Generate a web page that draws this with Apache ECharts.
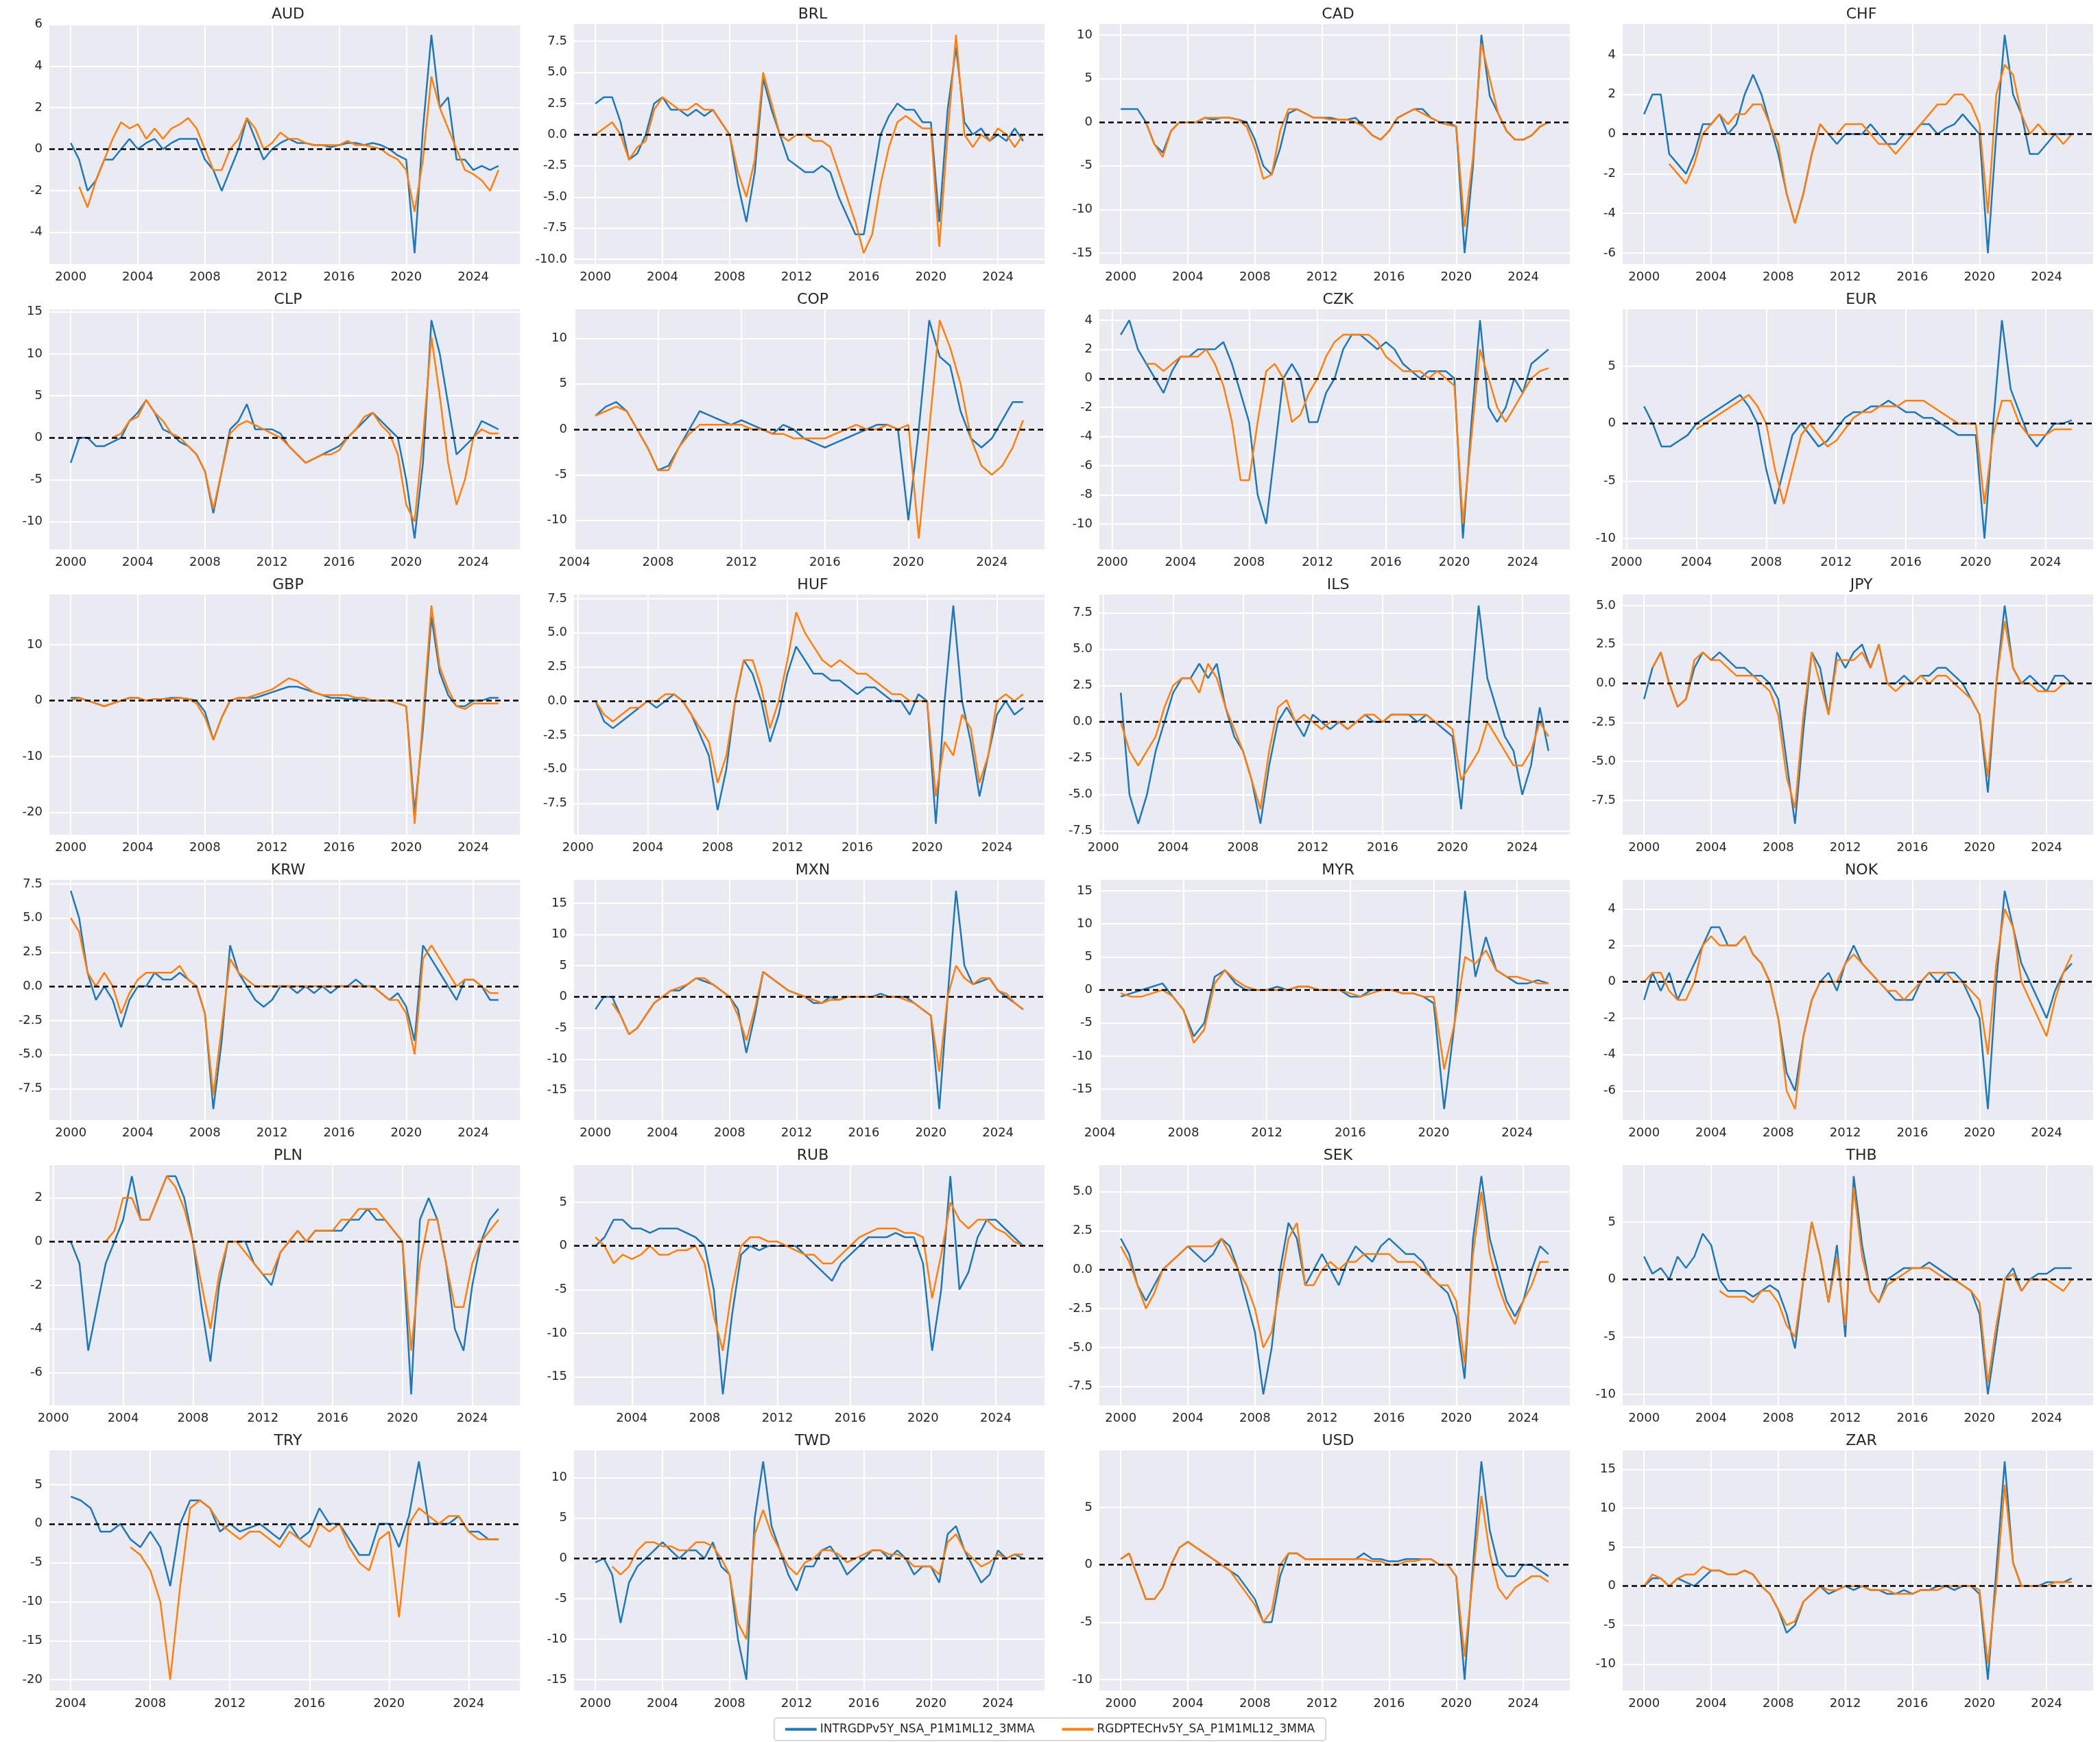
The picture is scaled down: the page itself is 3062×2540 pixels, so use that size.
<!DOCTYPE html>
<html>
<head>
<meta charset="utf-8">
<script src="https://cdn.jsdelivr.net/npm/echarts@6/dist/echarts.min.js"></script>
<style>html,body{margin:0;background:#fff}#main{width:3062px;height:2540px}</style>
</head>
<body>
<div id="main"></div>
<script>
const _ = null;
// semiannual points, index 0 = 2000.0, index 51 = 2025.5
const currencies = ['AUD','BRL','CAD','CHF','CLP','COP','CZK','EUR','GBP','HUF','ILS','JPY',
  'KRW','MXN','MYR','NOK','PLN','RUB','SEK','THB','TRY','TWD','USD','ZAR'];
const seriesNames = ['INTRGDPv5Y_NSA_P1M1ML12_3MMA', 'RGDPTECHv5Y_SA_P1M1ML12_3MMA'];
const yTicks = {
  AUD:[-6,6,2], BRL:[-10,10,2.5], CAD:[-15,10,5], CHF:[-8,6,2], CLP:[-15,15,5], COP:[-15,15,5],
  CZK:[-12,4,2], EUR:[-10,10,5], GBP:[-20,10,10], HUF:[-10,7.5,2.5], ILS:[-7.5,10,2.5], JPY:[-10,5,2.5],
  KRW:[-10,7.5,2.5], MXN:[-20,15,5], MYR:[-20,15,5], NOK:[-8,6,2], PLN:[-8,4,2], RUB:[-20,10,5],
  SEK:[-10,7.5,2.5], THB:[-10,10,5], TRY:[-20,10,5], TWD:[-15,10,5], USD:[-10,10,5], ZAR:[-10,15,5]
};
const xTickLabels = [2000, 2004, 2008, 2012, 2016, 2020, 2024];

const blue = {
  AUD:[0.3,-0.5,-2,-1.5,-0.5,-0.5,0,0.5,0,0.3,0.5,0,0.3,0.5,0.5,0.5,-0.5,-1,-2,-1,0,1.5,0.5,-0.5,0,0.3,0.5,0.3,0.3,0.2,0.2,0.1,0.2,0.3,0.3,0.2,0.3,0.2,0,-0.3,-0.5,-5,1,5.5,2,2.5,-0.5,-0.5,-1,-0.8,-1,-0.8],
  BRL:[2.5,3,3,1,-2,-1.5,0,2.5,3,2,2,1.5,2,1.5,2,1,0,-4,-7,-3,4.5,2,0,-2,-2.5,-3,-3,-2.5,-3,-5,-6.5,-8,-8,-4,0,1.5,2.5,2,2,1,1,-7,2,7,1,0,0.5,-0.5,0,-0.5,0.5,-0.5],
  CAD:[1.5,1.5,1.5,0,-2.5,-3.5,-1,0,0,0,0.5,0.3,0.5,0.5,0.3,0,-2,-5,-6,-3,1,1.5,1,0.5,0.5,0.5,0.3,0.3,0.5,-0.5,-1.5,-2,-1,0.5,1,1.5,1.5,0.5,0,0,-0.5,-15,-5,10,3,1,-1,-2,-2,-1.5,-0.5,0],
  CHF:[1,2,2,-1,-1.5,-2,-1,0.5,0.5,1,0,0.5,2,3,2,0.5,-1,-3,-4.5,-3,-1,0.5,0,-0.5,0,0,0,0.5,0,-0.5,-0.5,0,0,0.5,0.5,0,0.3,0.5,1,0.5,0,-6,0,5,2,1,-1,-1,-0.5,0,0,0],
  CLP:[-3,0,0,-1,-1,-0.5,0,2,3,4.5,3,1,0.5,-0.5,-1,-2,-4,-9,-4,1,2,4,1,1,1,0.5,-1,-2,-3,-2.5,-2,-1.5,-1,0,1,2,3,2,1,0,-5,-12,-3,14,10,4,-2,-1,0,2,1.5,1],
  COP:[_,_,_,_,_,_,_,_,_,_,1.5,2.5,3,2,0,-2,-4.5,-4,-2,0,2,1.5,1,0.5,1,0.5,0,-0.5,0.5,0,-1,-1.5,-2,-1.5,-1,-0.5,0,0.5,0.5,0,-10,0,12,8,7,2,-1,-2,-1,1,3,3],
  CZK:[_,3,4,2,1,0,-1,0.5,1.5,1.5,2,2,2,2.5,1,-1,-3,-8,-10,-5,0,1,0,-3,-3,-1,0,2,3,3,2.5,2,2.5,2,1,0.5,0,0.5,0.5,0.5,0,-11,-3,4,-2,-3,-2,0,-1,1,1.5,2],
  EUR:[_,_,1.5,0,-2,-2,-1.5,-1,0,0.5,1,1.5,2,2.5,1.5,0,-4,-7,-4,-1,0,-1,-2,-1.5,-0.5,0.5,1,1,1.5,1.5,2,1.5,1,1,0.5,0.5,0,-0.5,-1,-1,-1,-10,0,9,3,1,-1,-2,-1,0,0,0.3],
  GBP:[0.5,0.5,0,-0.5,-1,-0.5,0,0.5,0.5,0,0.3,0.3,0.5,0.5,0.3,0,-2,-7,-3,0,0.5,0.5,0.5,1,1.5,2,2.5,2.5,2,1.5,1,0.5,0.5,0.3,0.3,0,0,0,0,-0.5,-1,-20,-5,15,5,1,-1,-1,0,0,0.5,0.5],
  HUF:[_,_,0,-1.5,-2,-1.5,-1,-0.5,0,-0.5,0,0.5,0,-1,-2.5,-4,-8,-5,0,3,2,0,-3,-1,2,4,3,2,2,1.5,1.5,1,0.5,1,1,0.5,0,0,-1,0.5,0,-9,0,7,0,-3,-7,-4,-1,0,-1,-0.5],
  ILS:[_,_,2,-5,-7,-5,-2,0,2,3,3,4,3,4,1,-1,-2,-4,-7,-3,0,1,0,-1,0.5,0,-0.5,0,-0.5,0,0.5,0,0,0.5,0.5,0.5,0,0.5,0,-0.5,-1,-6,1,8,3,1,-1,-2,-5,-3,1,-2],
  JPY:[-1,1,2,0,-1.5,-1,1,2,1.5,2,1.5,1,1,0.5,0.5,0,-1,-5,-9,-3,2,1,-2,2,1,2,2.5,1,2.5,0,0,0.5,0,0.5,0.5,1,1,0.5,0,-1,-2,-7,0,5,1,0,0.5,0,-0.5,0.5,0.5,0],
  KRW:[7,5,1,-1,0,-1,-3,-1,0,0,1,0.5,0.5,1,0.5,0,-2,-9,-4,3,1,0,-1,-1.5,-1,0,0,-0.5,0,-0.5,0,-0.5,0,0,0.5,0,0,-0.5,-1,-0.5,-1.5,-4,3,2,1,0,-1,0.5,0.5,0,-1,-1],
  MXN:[-2,0,0,-3,-6,-5,-3,-1,0,1,1,2,3,2.5,2,1,0,-2,-9,-3,4,3,2,1,0.5,0,-1,-1,0,-0.5,0,0,0,0,0.5,0,0,0,-1,-2,-3,-18,0,17,5,2,2.5,3,1,0,-1,-2],
  MYR:[_,_,_,_,_,_,_,_,_,_,-1,-0.5,0,0.5,1,-1,-3,-7,-5,2,3,1,0,0,0,0.5,0,0.5,0.5,0,0,0,-1,-1,0,0,0,-0.5,-0.5,-1,-2,-18,-5,15,2,8,3,2,1,1,1.5,1],
  NOK:[-1,0.5,-0.5,0.5,-1,0,1,2,3,3,2,2,2.5,1.5,1,0,-2,-5,-6,-3,-1,0,0.5,-0.5,1,2,1,0.5,0,-0.5,-1,-1,-1,0,0.5,0,0.5,0.5,0,-1,-2,-7,0,5,3,1,0,-1,-2,-0.5,0.5,1],
  PLN:[_,_,0,-1,-5,-3,-1,0,1,3,1,1,2,3,3,2,0,-3,-5.5,-2,0,0,0,-1,-1.5,-2,-0.5,0,0.5,0,0.5,0.5,0.5,0.5,1,1,1.5,1,1,0.5,0,-7,1,2,1,-1,-4,-5,-2,0,1,1.5],
  RUB:[_,_,_,_,0,1,3,3,2,2,1.5,2,2,2,1.5,1,0,-5,-17,-8,-1,0,-0.5,0,0,0,0,-1,-2,-3,-4,-2,-1,0,1,1,1,1.5,1,1,-2,-12,-5,8,-5,-3,1,3,3,2,1,0],
  SEK:[2,1,-1,-2,-1,0,0.5,1,1.5,1,0.5,1,2,1.5,0,-2,-4,-8,-5,0,3,2,-1,0,1,0,-1,0.5,1.5,1,0.5,1.5,2,1.5,1,1,0.5,-0.5,-1,-1.5,-3,-7,2,6,2,0,-2,-3,-2,0,1.5,1],
  THB:[2,0.5,1,0,2,1,2,4,3,0,-1,-1,-1,-1.5,-1,-0.5,-1,-3,-6,0,5,2,-2,3,-5,9,3,-1,-2,0,0.5,1,1,1,1.5,1,0.5,0,-0.5,-1,-3,-10,-5,0,1,-1,0,0.5,0.5,1,1,1],
  TRY:[_,_,_,_,_,_,_,_,3.5,3,2,-1,-1,0,-2,-3,-1,-3,-8,0,3,3,2,-1,0,-1,-0.5,0,-1,-2,0,-2,-1,2,0,0,-2,-4,-4,0,0,-3,1,8,0,0,0,1,-1,-1,-2,-2],
  TWD:[-0.5,0,-2,-8,-3,-1,0,1,2,1,0,1,1,0,2,-1,-2,-10,-15,5,12,4,1,-2,-4,-1,-1,1,1.5,0,-2,-1,0,1,1,0,1,0,-2,-1,-1,-3,3,4,1,-1,-3,-2,1,0,0.5,0],
  USD:[0.5,1,-1,-3,-3,-2,0,1.5,2,1.5,1,0.5,0,-0.5,-1,-2,-3,-5,-5,-1,1,1,0.5,0.5,0.5,0.5,0.5,0.5,0.5,1,0.5,0.5,0.3,0.3,0.5,0.5,0.5,0.5,0,0,-1,-10,0,9,3,0,-1,-1,0,0,-0.5,-1],
  ZAR:[0,1,1,0,1,0.5,0,1,2,2,1.5,1.5,2,1.5,0,-1,-3,-6,-5,-2,-1,0,-1,-0.5,0,-0.5,0,-0.5,-0.5,-1,-1,-0.5,-1,-0.5,-0.5,0,0,-0.5,0,0,-1,-12,2,16,3,0,0,0,0.5,0.5,0.5,1]
};
const orange = {
  AUD:[_,-1.8,-2.8,-1.5,-0.5,0.5,1.3,1.0,1.2,0.5,1.0,0.5,1.0,1.2,1.5,1.0,0,-1,-1,0,0.5,1.5,1,0,0.3,0.8,0.5,0.5,0.3,0.2,0.2,0.2,0.2,0.4,0.2,0.2,0.1,0,-0.3,-0.5,-1,-3,-0.5,3.5,2,1,0,-1,-1.2,-1.5,-2,-1],
  BRL:[0,0.5,1,0,-2,-1,-0.5,2,3,2.5,2,2,2.5,2,2,1,0,-3,-5,-2,5,2.5,0,-0.5,0,0,-0.5,-0.5,-1,-3,-5,-7,-9.5,-8,-4,-1,1,1.5,1,0.5,0.5,-9,0,8,0,-1,0,-0.5,0.5,0,-1,0],
  CAD:[_,_,_,0,-2.5,-4,-1,0,0,0,0.5,0.5,0.5,0.5,0.3,-0.5,-3,-6.5,-6,-1,1.5,1.5,1,0.5,0.5,0.3,0.3,0.3,0,-0.5,-1.5,-2,-1,0.5,1,1.5,1,0.5,0,-0.3,-0.5,-12,-4,9,5,1,-1,-2,-2,-1.5,-0.5,0],
  CHF:[_,_,_,-1.5,-2,-2.5,-1.5,0,0.5,1,0.5,1,1,1.5,1.5,0.5,-0.5,-3,-4.5,-3,-1,0.5,0,0,0.5,0.5,0.5,0,-0.5,-0.5,-1,-0.5,0,0.5,1,1.5,1.5,2,2,1.5,0.5,-4,2,3.5,3,1,0,0.5,0,0,-0.5,0],
  CLP:[_,_,_,_,_,0,0.5,2,2.5,4.5,3,2,0.5,0,-1,-2,-4,-8.5,-4,0.5,1.5,2,1.5,1,0.5,0,-1,-2,-3,-2.5,-2,-2,-1.5,0,1,2.5,3,1.5,0.5,-2,-8,-10,0,12,5,-3,-8,-5,0,1,0.5,0.5],
  COP:[_,_,_,_,_,_,_,_,_,_,1.5,2,2.5,2,0,-2,-4.5,-4.5,-2,-0.5,0.5,0.5,0.5,0.5,0.5,0,0,-0.5,-0.5,-1,-1,-1,-1,-0.5,0,0.5,0,0,0.5,0,0.5,-12,0,12,9,5,-1,-4,-5,-4,-2,1],
  CZK:[_,_,_,_,1,1,0.5,1,1.5,1.5,1.5,2,1,-0.5,-3,-7,-7,-3,0.5,1,0,-3,-2.5,-1,0,1.5,2.5,3,3,3,3,2.5,1.5,1,0.5,0.5,0.5,0,0.5,0,-0.5,-10,-4,2,0,-2,-3,-2,-1,0,0.5,0.7],
  EUR:[_,_,_,_,_,_,_,_,-0.5,0,0.5,1,1.5,2,2.5,1.5,0,-4,-7,-4,-1,0,-1,-2,-1.5,-0.5,0.5,1,1,1.5,1.5,1.5,2,2,2,1.5,1,0.5,0,0,0,-7,-1,2,2,0,-1,-1,-1,-0.5,-0.5,-0.5],
  GBP:[0,0.5,0,-0.5,-1,-0.5,0,0.5,0.5,0,0.3,0.3,0.3,0.5,0.3,-0.5,-3,-7,-3,0,0.5,0.5,1,1.5,2,3,4,3.5,2.5,1.5,1,1,1,1,0.5,0.5,0,0,0,-0.5,-1,-22,-3,17,6,2,-1,-1.5,-0.5,-0.5,-0.5,-0.5],
  HUF:[_,_,0,-1,-1.5,-1,-0.5,-0.5,0,0,0.5,0.5,0,-1,-2,-3,-6,-4,0,3,3,1,-2,0,3,6.5,5,4,3,2.5,3,2.5,2,2,1.5,1,0.5,0.5,0,0,0,-7,-3,-4,-1,-2,-6,-4,0,0.5,0,0.5],
  ILS:[_,_,0,-2,-3,-2,-1,1,2.5,3,3,2,4,3,1,-0.5,-2,-4,-6,-2,1,1.5,0,0.5,0,-0.5,0,0,-0.5,0,0.5,0.5,0,0.5,0.5,0.5,0.5,0.5,0,0,-0.5,-4,-3,-2,0,-1,-2,-3,-3,-2,0,-1],
  JPY:[_,1,2,0,-1.5,-1,1.5,2,1.5,1.5,1,0.5,0.5,0.5,0,-0.5,-2,-6,-8,-2,2,0,-2,1.5,1.5,1.5,2,1,2.5,0,-0.5,0,0,0.5,0,0.5,0.5,0,-0.5,-1,-2,-6,0,4,1,0,0,-0.5,-0.5,-0.5,0,0],
  KRW:[5,4,1,0,1,0,-2,-0.5,0.5,1,1,1,1,1.5,0.5,0,-2,-8,-3,2,1,0.5,0,0,0,0,0,0,0,0,0,0,0,0,0,0,0,-0.5,-1,-1,-2,-5,2,3,2,1,0,0.5,0.5,0,-0.5,-0.5],
  MXN:[_,_,-1,-3,-6,-5,-3,-1,0,1,1.5,2,3,3,2,1,0,-3,-7,-2,4,3,2,1,0.5,0,-0.5,-1,-0.5,-0.5,0,0,0,0,0,0,0,-0.5,-1,-2,-3,-12,0,5,3,2,3,3,1,0.5,-1,-2],
  MYR:[_,_,_,_,_,_,_,_,_,_,-0.5,-1,-1,-0.5,0,-1,-3,-8,-6,1,3,1.5,0.5,0,0,0,0,0.5,0.5,0,0,0,-0.5,-1,-0.5,0,0,-0.5,-0.5,-1,-1,-12,-5,5,4,6,3,2,2,1.5,1,1],
  NOK:[0,0.5,0.5,-0.5,-1,-1,0,2,2.5,2,2,2,2.5,1.5,1,0,-2,-6,-7,-3,-1,0,0,0,1,1.5,1,0.5,0,-0.5,-0.5,-1,-0.5,0,0.5,0.5,0.5,0,0,-0.5,-1,-4,1,4,3,0,-1,-2,-3,-1,0.5,1.5],
  PLN:[_,_,_,_,_,_,0,0.5,2,2,1,1,2,3,2.5,1.5,0,-2,-4,-1.5,0,0,-0.5,-1,-1.5,-1.5,-0.5,0,0.5,0,0.5,0.5,0.5,1,1,1.5,1.5,1.5,1,0.5,0,-5,-1,1,1,-1,-3,-3,-1,0,0.5,1],
  RUB:[_,_,_,_,1,0,-2,-1,-1.5,-1,0,-1,-1,-0.5,-0.5,0,-2,-8,-12,-5,0,1,1,0.5,0.5,0,-0.5,-1,-1,-2,-2,-1,0,1,1.5,2,2,2,1.5,1.5,1,-6,-1,5,3,2,3,3,2,1.5,0.5,0],
  SEK:[1.5,0.5,-1,-2.5,-1.5,0,0.5,1,1.5,1.5,1.5,1.5,2,1,0,-1,-2.5,-5,-4,-1,2,3,-1,-1,0,0.5,0,0.5,0.5,1,1,1,1,0.5,0.5,0.5,0,-0.5,-1,-1,-2,-6,1,5,1,-1,-2.5,-3.5,-2,-1,0.5,0.5],
  THB:[_,_,_,_,_,_,_,_,_,-1,-1.5,-1.5,-1.5,-2,-1,-1,-2,-4,-5,0,5,2,-2,2,-4,8,2,-1,-2,-0.5,0,0.5,1,1,1,0.5,0,0,-0.5,-1,-2,-9,-4,0,0.5,-1,0,0,0,-0.5,-1,0],
  TRY:[_,_,_,_,_,_,_,_,_,_,_,_,_,_,-3,-4,-6,-10,-20,-8,2,3,2,0,-1,-2,-1,-1,-2,-3,-1,-2,-3,0,-1,0,-3,-5,-6,-2,-1,-12,0,2,1,0,1,1,-1,-2,-2,-2],
  TWD:[_,_,-1,-2,-1,1,2,2,1.5,1.5,1,1,2,2,1.5,0,-2,-8,-10,3,6,3,1,-1,-2,-0.5,0,1,1,0.5,-0.5,0,0.5,1,1,0.5,0.5,0,-1,-1,-1,-2,2,3,1,0,-1,-0.5,0.5,0,0.5,0.5],
  USD:[0.5,1,-1,-3,-3,-2,0,1.5,2,1.5,1,0.5,0,-0.5,-1.5,-2.5,-3.5,-5,-4,0,1,1,0.5,0.5,0.5,0.5,0.5,0.5,0.5,0.5,0.3,0.3,0,0,0.3,0.3,0.5,0.5,0,0,-1,-8,-1,6,1,-2,-3,-2,-1.5,-1,-1,-1.5],
  ZAR:[0,1.5,1,0,1,1.5,1.5,2.5,2,2,1.5,1.5,2,1.5,0,-1,-3,-5,-4.5,-2,-1,0,-0.5,-0.5,0,0,0,-0.5,-0.5,-0.5,-1,-1,-1,-0.5,-0.5,-0.5,0,0,0,0,-0.5,-10,0,13,3,0,0,0,0,0.5,0.5,0.5]
};

const toPoints = arr => arr.map((v, i) => v === null ? null : [2000 + i * 0.5, v]).filter(p => p);

const chart = echarts.init(document.getElementById('main'));
const grids = [], xAxes = [], yAxes = [], series = [], titles = [];
const colLeft = [72, 837, 1603, 2366], rowTop = [35, 451, 867, 1283, 1699, 2115];
const W = 686, H = 350;

currencies.forEach((c, k) => {
  const col = k % 4, row = Math.floor(k / 4);
  const b = toPoints(blue[c]), o = toPoints(orange[c]);
  const all = b.concat(o);
  const xs = all.map(p => p[0]), ys = all.map(p => p[1]);
  const x0 = Math.min(...xs), x1 = Math.max(...xs);
  const y0 = Math.min(...ys), y1 = Math.max(...ys);
  const xm = (x1 - x0) * 0.05, ym = (y1 - y0) * 0.05;
  const [tLo, tHi, tStep] = yTicks[c];
  const yt = [];
  for (let v = tLo; v <= tHi + 1e-9; v += tStep) yt.push(+v.toFixed(2));
  const xt = xTickLabels.filter(v => v >= x0 - xm && v <= x1 + xm);

  grids.push({left: colLeft[col], top: rowTop[row], width: W, height: H,
    show: true, backgroundColor: '#EAEAF2', borderWidth: 0});
  titles.push({text: c, left: colLeft[col] + W / 2, top: rowTop[row] - 30, textAlign: 'center',
    textStyle: {fontSize: 22, fontWeight: 'normal', color: '#262626', fontFamily: 'DejaVu Sans'}});
  xAxes.push({type: 'value', gridIndex: k, min: x0 - xm, max: x1 + xm,
    axisLine: {show: false}, axisTick: {show: false, customValues: xt},
    axisLabel: {customValues: xt, fontSize: 18, color: '#262626', fontFamily: 'DejaVu Sans', margin: 10,
      formatter: v => String(v)},
    splitLine: {show: true, lineStyle: {color: '#fff', width: 2}}});
  yAxes.push({type: 'value', gridIndex: k, min: y0 - ym, max: y1 + ym,
    axisLine: {show: false}, axisTick: {show: false, customValues: yt},
    axisLabel: {customValues: yt, fontSize: 18, color: '#262626', fontFamily: 'DejaVu Sans', margin: 10,
      formatter: v => (tStep % 1 ? v.toFixed(1) : String(v))},
    splitLine: {show: true, lineStyle: {color: '#fff', width: 2}}});
  series.push({name: seriesNames[0], type: 'line', xAxisIndex: k, yAxisIndex: k, data: b,
    showSymbol: false, lineStyle: {width: 2.5, color: '#1f77b4'}, itemStyle: {color: '#1f77b4'},
    markLine: {silent: true, symbol: 'none', label: {show: false},
      lineStyle: {color: '#000', type: [8, 5], width: 2.5}, data: [{yAxis: 0}]}});
  series.push({name: seriesNames[1], type: 'line', xAxisIndex: k, yAxisIndex: k, data: o,
    showSymbol: false, lineStyle: {width: 2.5, color: '#ff7f0e'}, itemStyle: {color: '#ff7f0e'}, z: 3});
});

chart.setOption({
  animation: false,
  title: titles,
  grid: grids,
  xAxis: xAxes,
  yAxis: yAxes,
  series: series,
  legend: {data: seriesNames, left: 'center', top: 2505, itemWidth: 46, itemHeight: 4, itemGap: 40,
    icon: 'rect', borderColor: '#ccc', borderWidth: 1.5, borderRadius: 4, padding: [8, 16],
    textStyle: {fontSize: 17, color: '#262626', fontFamily: 'DejaVu Sans'}}
});
</script>
</body>
</html>
